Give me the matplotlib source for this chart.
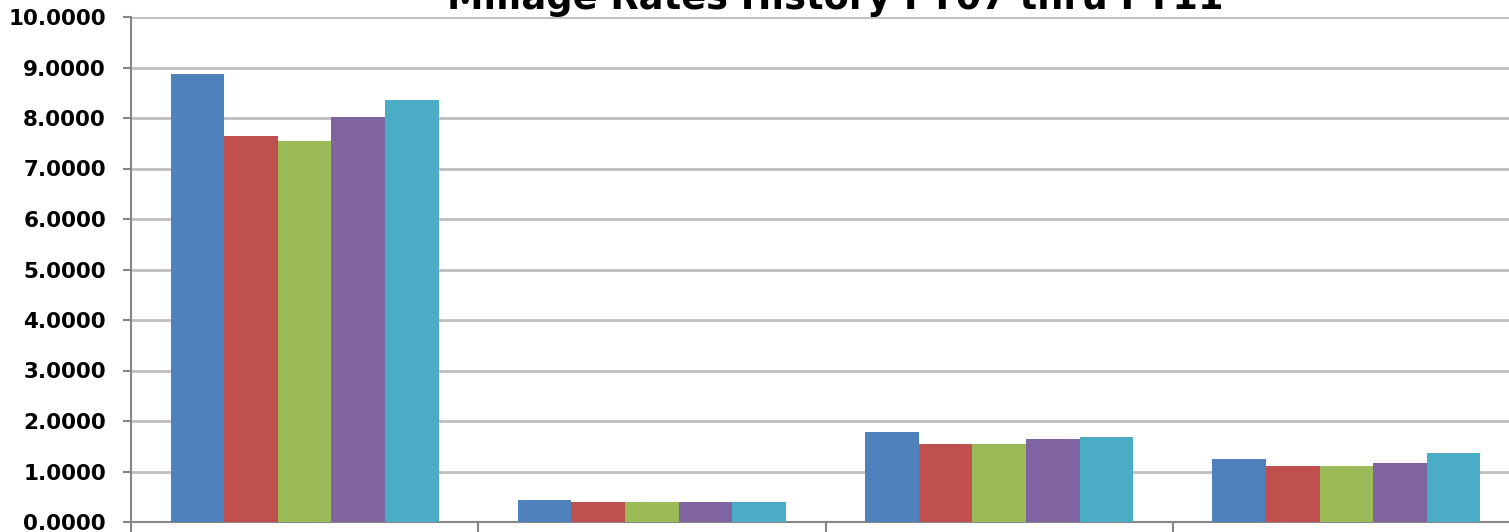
import numpy as np
import matplotlib.pyplot as plt

# millage rates per fiscal year (4 groups, 5 years)
groups = ['Group 1', 'Group 2', 'Group 3', 'Group 4']
years = ['FY07', 'FY08', 'FY09', 'FY10', 'FY11']
fy07 = [8.87, 0.44, 1.78, 1.25]
fy08 = [7.64, 0.39, 1.55, 1.11]
fy09 = [7.54, 0.39, 1.55, 1.11]
fy10 = [8.01, 0.39, 1.64, 1.16]
fy11 = [8.35, 0.39, 1.68, 1.36]
series = [fy07, fy08, fy09, fy10, fy11]
colors = ['#4F81BD', '#C0504D', '#9BBB59', '#8064A2', '#4BACC6']

fig = plt.figure(figsize=(15.09, 5.32), dpi=100)
ax = fig.add_axes([131 / 1509, 10 / 532, 1389 / 1509, 505 / 532])

x = np.arange(len(groups))
w = 0.1544
for i, (vals, c) in enumerate(zip(series, colors)):
    ax.bar(x + (i - 2) * w, vals, width=w, color=c, label=years[i], zorder=3)

ax.set_xlim(-0.5, 3.5)
ax.set_ylim(0, 10)
ax.set_yticks(np.arange(0, 11, 1))
ax.set_yticklabels(['%.4f' % v for v in np.arange(0, 11, 1)],
                   fontsize=15.5, fontweight='bold')
ax.grid(axis='y', color='#BEBEBE', linewidth=2, zorder=0)

ax.set_xticks([])
ax.set_xticks(np.arange(-0.5, 4, 1), minor=True)
ax.tick_params(axis='x', which='minor', length=8, width=1.5, color='#868686')
ax.tick_params(axis='y', length=6, width=1.5, color='#868686', pad=12)

for s in ['top', 'right']:
    ax.spines[s].set_visible(False)
ax.spines['left'].set_color('#868686')
ax.spines['left'].set_linewidth(1.5)
ax.spines['bottom'].set_color('#868686')
ax.spines['bottom'].set_linewidth(1.5)

# title sits partly above the top edge, as in the source image
fig.text(835 / 1509, 1 - 9 / 532, 'Millage Rates History FY07 thru FY11',
         ha='center', va='baseline', fontsize=26.5, fontweight='bold')

fig.savefig('out.png', dpi=100)
